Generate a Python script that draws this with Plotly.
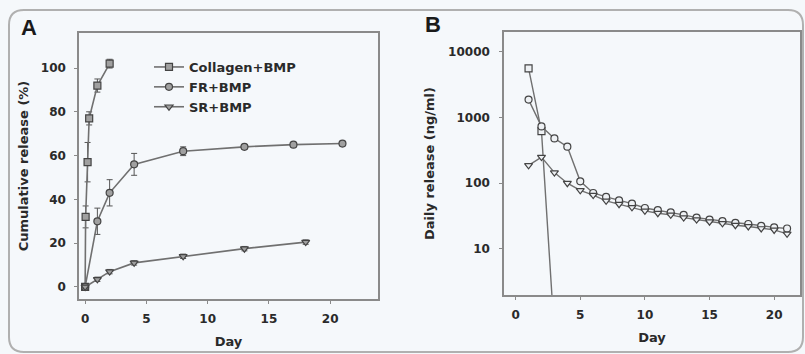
import plotly.graph_objects as go

# ---------------- data ----------------
# Panel A: cumulative release (%)
col_day = [0, 0.04, 0.2, 0.33, 1, 2]
col_cum = [0, 32, 57, 77, 92, 102]
col_err = [0.5, 5, 9, 3, 3, 2]

fr_day = [0, 1, 2, 4, 8, 13, 17, 21]
fr_cum = [0, 30, 43, 56, 62, 64, 65, 65.5]
fr_err = [0.5, 6, 6, 5, 2, 1, 1, 1]

sr_day = [0, 1, 2, 4, 8, 13, 18]
sr_cum = [0, 3.5, 7, 11, 14, 17.5, 20.5]
sr_err = [0.5, 1, 1, 1, 1, 1, 1]

# Panel B: daily release (ng/ml)
colB_day = [1, 2, 3]
colB_val = [5600, 620, 0.5]

frB_day = list(range(1, 22))
frB_val = [1870, 730, 480, 360, 107, 71, 62, 55, 49, 42, 39, 36, 33, 30, 28,
           26.5, 25, 24, 22.5, 21.3, 20.5]

srB_day = list(range(1, 22))
srB_val = [187, 250, 145, 100, 78, 66, 54, 48, 43, 38, 35, 33, 30, 28, 26,
           24.5, 23, 22, 20.5, 19.5, 17]

names = ["Collagen+BMP", "FR+BMP", "SR+BMP"]
xticksA = [0, 5, 10, 15, 20]
yticksA = [0, 20, 40, 60, 80, 100]
xticksB = [0, 5, 10, 15, 20]
yticksB = [10, 100, 1000, 10000]
yticksB_text = ["10", "100", "1000", "10000"]

# ---------------- styling ----------------
W, H = 805, 354
BG = "#f5f8fb"
LINE = "#707070"
EDGE = "#444444"
FONT = "DejaVu Sans"
TXT = "#2a2a2a"

def px_x(p):
    return p / W

def px_y(p):
    return 1 - p / H

fig = go.Figure()

symbols = ["square", "circle", "triangle-down"]
A_sets = [(col_day, col_cum, col_err), (fr_day, fr_cum, fr_err), (sr_day, sr_cum, sr_err)]
for (x, y, e), nm, sym in zip(A_sets, names, symbols):
    fig.add_trace(go.Scatter(
        x=x, y=y, name=nm, mode="lines+markers",
        line=dict(color=LINE, width=1.6),
        marker=dict(symbol=sym, size=7, color="#a0a0a0",
                    line=dict(color=EDGE, width=1.2)),
        error_y=dict(type="data", array=e, visible=True, color="#555",
                     thickness=1, width=3),
        xaxis="x", yaxis="y", showlegend=True))

B_sets = [(colB_day, colB_val), (frB_day, frB_val), (srB_day, srB_val)]
for (x, y), nm, sym in zip(B_sets, names, symbols):
    fig.add_trace(go.Scatter(
        x=x, y=y, name=nm, mode="lines+markers",
        line=dict(color=LINE, width=1.4),
        marker=dict(symbol=sym, size=7, color="#eef1f4",
                    line=dict(color=EDGE, width=1.2)),
        xaxis="x2", yaxis="y2", showlegend=False))

axis_common = dict(
    showline=True, linecolor="#8a8a8a", linewidth=1.5, mirror=True,
    showgrid=False, zeroline=False,
    ticks="outside", ticklen=3, tickcolor="#8a8a8a", tickwidth=1,
    tickfont=dict(family=FONT, size=12, color=TXT, weight="bold"),
)
title_font = dict(family=FONT, size=13, color=TXT, weight="bold")

fig.update_layout(
    width=W, height=H, autosize=False,
    margin=dict(l=0, r=0, t=0, b=0),
    paper_bgcolor=BG, plot_bgcolor=BG,
    xaxis=dict(domain=[px_x(79), px_x(378)], range=[-0.5, 23.9],
               tickvals=xticksA, anchor="y",
               title=dict(text="Day", font=title_font, standoff=12),
               ticklabelstandoff=5, **axis_common),
    yaxis=dict(domain=[px_y(299), px_y(33)], range=[-5.5, 116],
               tickvals=yticksA, anchor="x",
               title=dict(text="Cumulative release (%)", font=title_font, standoff=9),
               ticklabelstandoff=6, **axis_common),
    xaxis2=dict(domain=[px_x(504), px_x(800)], range=[-0.9, 22],
                tickvals=xticksB, anchor="y2",
                title=dict(text="Day", font=title_font, standoff=12),
                ticklabelstandoff=5, **axis_common),
    yaxis2=dict(domain=[px_y(295), px_y(32)], type="log", range=[0.30, 4.30],
                tickvals=yticksB, ticktext=yticksB_text, anchor="x2",
                title=dict(text="Daily release (ng/ml)", font=title_font, standoff=11),
                ticklabelstandoff=7, **axis_common),
    legend=dict(x=px_x(149), y=px_y(52), xanchor="left", yanchor="top",
                bgcolor="rgba(0,0,0,0)", itemwidth=30, tracegroupgap=0,
                font=dict(family=FONT, size=13, color=TXT, weight="bold")),
    annotations=[
        dict(text="A", x=px_x(29), y=px_y(27), xref="paper", yref="paper",
             xanchor="center", yanchor="middle",
             showarrow=False, font=dict(family="Liberation Sans", size=22, color="#1a1a1a", weight="bold")),
        dict(text="B", x=px_x(433), y=px_y(24), xref="paper", yref="paper",
             xanchor="center", yanchor="middle",
             showarrow=False, font=dict(family="Liberation Sans", size=22, color="#1a1a1a", weight="bold")),
    ],
)

# rounded outer frame
l, t, r, b, rad = 9, 10, 803, 352, 15
def P(x, y):
    return f"{px_x(x):.5f},{px_y(y):.5f}"
path = (f"M {P(l+rad, t)} L {P(r-rad, t)} Q {P(r, t)} {P(r, t+rad)} "
        f"L {P(r, b-rad)} Q {P(r, b)} {P(r-rad, b)} L {P(l+rad, b)} "
        f"Q {P(l, b)} {P(l, b-rad)} L {P(l, t+rad)} Q {P(l, t)} {P(l+rad, t)} Z")
fig.add_shape(type="path", path=path, xref="paper", yref="paper",
              line=dict(color="#b0b0b0", width=2), layer="below")

fig.write_html("out.html", config={"displayModeBar": False},
               post_script="document.body.style.margin='0';document.body.style.padding='0';")
